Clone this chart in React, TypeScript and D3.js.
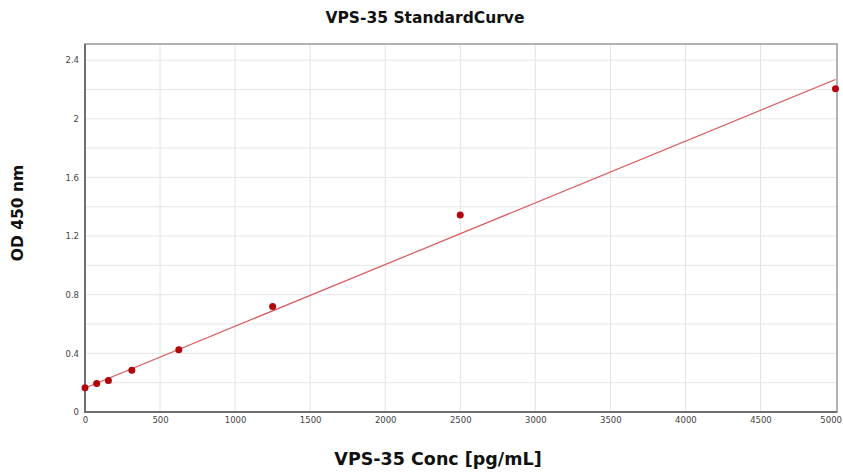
import { useRef, useEffect } from "react";
import * as d3 from "d3";

const concentrations = [0, 78, 156, 312, 625, 1250, 2500, 5000];
const odValues = [0.165, 0.195, 0.215, 0.285, 0.425, 0.72, 1.343, 2.204];
// fitted line endpoints
const fitX = [0, 5000];
const fitY = [0.164, 2.268];
const xTicks = [0, 500, 1000, 1500, 2000, 2500, 3000, 3500, 4000, 4500, 5000];
const yTicks = [0, 0.4, 0.8, 1.2, 1.6, 2, 2.4];
const yGrid = [0.2, 0.4, 0.6, 0.8, 1, 1.2, 1.4, 1.6, 1.8, 2, 2.2, 2.4];

export default function App() {
  const svgRef = useRef<SVGSVGElement>(null);

  useEffect(() => {
    if (!svgRef.current) return;
    const width = 843;
    const height = 473;
    const margin = { top: 44, right: 6, bottom: 61, left: 85 };
    const innerWidth = width - margin.left - margin.right;
    const innerHeight = height - margin.top - margin.bottom;
    const font = "'DejaVu Sans', Verdana, sans-serif";

    const svg = d3.select(svgRef.current);
    svg.selectAll("*").remove();
    svg.attr("width", width).attr("height", height);

    const x = d3.scaleLinear().domain([0, 5010]).range([0, innerWidth]);
    const y = d3.scaleLinear().domain([0, 2.51]).range([innerHeight, 0]);

    const g = svg.append("g").attr("transform", `translate(${margin.left},${margin.top})`);

    // grid
    g.selectAll(".vgrid")
      .data(xTicks.slice(1, -1))
      .join("line")
      .attr("x1", (d) => x(d))
      .attr("x2", (d) => x(d))
      .attr("y1", 0)
      .attr("y2", innerHeight)
      .attr("stroke", "#e2e2e2")
      .attr("stroke-width", 1);

    g.selectAll(".hgrid")
      .data(yGrid)
      .join("line")
      .attr("x1", 0)
      .attr("x2", innerWidth)
      .attr("y1", (d) => y(d))
      .attr("y2", (d) => y(d))
      .attr("stroke", "#e6e6e6")
      .attr("stroke-width", 1);

    // frame: light top/right, dark left/bottom
    g.append("rect")
      .attr("x", 0)
      .attr("y", 0)
      .attr("width", innerWidth)
      .attr("height", innerHeight)
      .attr("fill", "none")
      .attr("stroke", "#9a9a9a")
      .attr("stroke-width", 1.5);
    g.append("path")
      .attr("d", `M0,0V${innerHeight}H${innerWidth}`)
      .attr("fill", "none")
      .attr("stroke", "#6e6e6e")
      .attr("stroke-width", 2);

    // axes
    const xAxis = g
      .append("g")
      .attr("transform", `translate(0,${innerHeight})`)
      .call(d3.axisBottom(x).tickValues(xTicks).tickFormat(d3.format("d")).tickSize(0).tickPadding(5));
    xAxis.select(".domain").remove();
    xAxis.selectAll("text").style("font-size", "8.5px").style("font-family", font).style("fill", "#444");
    xAxis
      .selectAll<SVGTextElement, number>("text")
      .filter((d) => d === xTicks[xTicks.length - 1])
      .attr("text-anchor", "end")
      .attr("x", 6);

    const yAxis = g
      .append("g")
      .call(d3.axisLeft(y).tickValues(yTicks).tickFormat((d) => String(d)).tickSize(0).tickPadding(6));
    yAxis.select(".domain").remove();
    yAxis.selectAll("text").style("font-size", "8.5px").style("font-family", font).style("fill", "#444");

    // fit line
    const line = d3
      .line<number>()
      .x((d) => x(d))
      .y((_, i) => y(fitY[i]));
    g.append("path")
      .datum(fitX)
      .attr("d", line)
      .attr("fill", "none")
      .attr("stroke", "#d9585a")
      .attr("stroke-width", 1.2);

    // points
    g.selectAll(".pt")
      .data(concentrations)
      .join("circle")
      .attr("cx", (d) => x(d))
      .attr("cy", (_, i) => y(odValues[i]))
      .attr("r", 3.5)
      .attr("fill", "#b3050c");

    // titles
    svg
      .append("text")
      .attr("x", 425)
      .attr("y", 23)
      .attr("text-anchor", "middle")
      .style("font-family", font)
      .style("font-weight", "bold")
      .style("font-size", "15.5px")
      .style("fill", "#111")
      .text("VPS-35 StandardCurve");

    svg
      .append("text")
      .attr("x", 438)
      .attr("y", 465)
      .attr("text-anchor", "middle")
      .style("font-family", font)
      .style("font-weight", "bold")
      .style("font-size", "17.5px")
      .style("fill", "#111")
      .text("VPS-35 Conc [pg/mL]");

    svg
      .append("text")
      .attr("transform", "translate(23,213) rotate(-90)")
      .attr("text-anchor", "middle")
      .style("font-family", font)
      .style("font-weight", "bold")
      .style("font-size", "15.5px")
      .style("fill", "#111")
      .text("OD 450 nm");
  }, []);

  return <svg ref={svgRef} style={{ position: "absolute", left: 0, top: 0, background: "#fff" }} />;
}
